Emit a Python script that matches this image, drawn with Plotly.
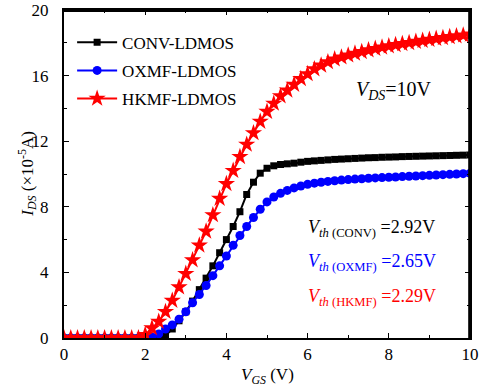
import plotly.graph_objects as go

# Gate voltage sweep (V), step 1/6 V
vgs = [round(i / 6, 4) for i in range(61)]

conv_ids = [0] * 15 + [
    0.15, 0.55, 1.05, 1.6, 2.25, 2.95, 3.65, 4.4, 5.2, 6.0,
    6.8, 7.7, 8.75, 9.5, 10.05, 10.35, 10.5, 10.58, 10.62, 10.66,
    10.72, 10.77, 10.8, 10.83, 10.86, 10.89, 10.91, 10.93, 10.95, 10.97,
    10.99, 11.0, 11.02, 11.03, 11.04, 11.06, 11.07, 11.08, 11.09, 11.1,
    11.11, 11.12, 11.13, 11.14, 11.15, 11.16]

oxmf_ids = [0] * 13 + [
    0.05, 0.25, 0.55, 0.8, 1.15, 1.6, 2.15, 2.65, 3.2, 3.8,
    4.4, 5.0, 5.65, 6.25, 6.8, 7.35, 7.85, 8.3, 8.6, 8.82,
    9.0, 9.15, 9.27, 9.37, 9.44, 9.5, 9.55, 9.59, 9.63, 9.66,
    9.69, 9.71, 9.74, 9.76, 9.78, 9.8, 9.82, 9.84, 9.86, 9.88,
    9.9, 9.92, 9.94, 9.96, 9.98, 10.0, 10.02, 10.04]

hkmf_ids = [0] * 12 + [
    0.2, 0.6, 1.0, 1.6, 2.28, 3.1, 3.92, 4.75, 5.65, 6.5,
    7.5, 8.5, 9.4, 10.2, 11.05, 11.8, 12.5, 13.2, 13.8, 14.3,
    14.75, 15.1, 15.45, 15.8, 16.1, 16.4, 16.62, 16.83, 17.0, 17.12,
    17.24, 17.35, 17.45, 17.55, 17.64, 17.72, 17.8, 17.87, 17.94, 18.0,
    18.07, 18.13, 18.19, 18.25, 18.3, 18.36, 18.41, 18.46, 18.52]

x_ticks = [0, 2, 4, 6, 8, 10]
y_ticks = [0, 4, 8, 12, 16, 20]

FONT = "Liberation Serif"

fig = go.Figure()
fig.add_trace(go.Scatter(
    x=vgs, y=conv_ids, name="CONV-LDMOS", mode="lines+markers", legendgroup="a",
    line=dict(color="#000000", width=2),
    marker=dict(symbol="square", size=7, color="#000000")))
fig.add_trace(go.Scatter(
    x=vgs, y=oxmf_ids, name="OXMF-LDMOS", mode="lines+markers", legendgroup="b",
    line=dict(color="#0000ff", width=2),
    marker=dict(symbol="circle", size=9, color="#0000ff")))
fig.add_trace(go.Scatter(
    x=vgs, y=hkmf_ids, name="HKMF-LDMOS", mode="lines+markers", legendgroup="c",
    line=dict(color="#ff0000", width=2),
    marker=dict(symbol="star", size=13, color="#ff0000")))

axis_common = dict(
    showline=True, linecolor="black", linewidth=2, mirror="allticks",
    ticks="inside", ticklen=5, tickwidth=1.2, tickcolor="black",
    showgrid=False, zeroline=False, automargin=False,
    tickfont=dict(family=FONT, size=17, color="black"),
)

fig.update_xaxes(
    range=[0, 10], tickvals=x_ticks, ticktext=[str(v) for v in x_ticks],
    minor=dict(dtick=1, ticks="inside", ticklen=3, tickcolor="black", tickwidth=1),
    ticklabelstandoff=0,
    **axis_common)
fig.update_yaxes(
    range=[0, 20], tickvals=y_ticks, ticktext=[str(v) for v in y_ticks],
    minor=dict(dtick=2, ticks="inside", ticklen=3, tickcolor="black", tickwidth=1),
    ticklabelstandoff=10,
    **axis_common)

# frame drawn just inside the top and right edges of the plotting area
fig.add_shape(type="line", xref="paper", yref="paper", x0=0, y0=0.997, x1=1, y1=0.997,
              line=dict(color="black", width=2), layer="above")
fig.add_shape(type="line", xref="paper", yref="paper", x0=0.998, y0=0, x1=0.998, y1=1,
              line=dict(color="black", width=2), layer="above")

# axis titles
fig.add_annotation(x=0.5, y=-0.075, xref="paper", yref="paper", xanchor="center",
                   yanchor="top", showarrow=False,
                   text="<i>V</i><sub><i>GS</i></sub> (V)",
                   font=dict(family=FONT, size=17, color="black"))
fig.add_annotation(x=-0.092, y=0.5, xref="paper", yref="paper", xanchor="center",
                   yanchor="middle", showarrow=False, textangle=-90,
                   text="<i>I</i><sub><i>DS</i></sub> (×10<sup>-5</sup>A)",
                   font=dict(family=FONT, size=17, color="black"))

fig.add_annotation(x=0.715, y=0.755, xref="paper", yref="paper", xanchor="left",
                   yanchor="middle", showarrow=False,
                   text="<i>V</i><sub><i>DS</i></sub>=10V",
                   font=dict(family=FONT, size=20, color="black"))
vth = [("CONV", "2.92", "#000000", 0.335), ("OXMF", "2.65", "#0000ff", 0.23),
       ("HKMF", "2.29", "#ff0000", 0.125)]
for name, val, col, yy in vth:
    fig.add_annotation(x=0.595, y=yy, xref="paper", yref="paper", xanchor="left",
                       yanchor="middle", showarrow=False,
                       text=f"<i>V</i><sub><i>th</i> ({name})</sub> ={val}V",
                       font=dict(family=FONT, size=18, color=col))

fig.update_layout(
    width=487, height=387,
    margin=dict(l=64, r=17, t=10, b=49),
    paper_bgcolor="white", plot_bgcolor="white",
    font=dict(family=FONT, color="black"),
    showlegend=True,
    legend=dict(x=0.02, y=0.955, xanchor="left", yanchor="top",
                bgcolor="rgba(0,0,0,0)", font=dict(family=FONT, size=17),
                itemwidth=40, tracegroupgap=3),
)

fig.write_html("out.html", config={"displayModeBar": False},
               post_script="document.body.style.margin='0';document.body.style.overflow='hidden';")
